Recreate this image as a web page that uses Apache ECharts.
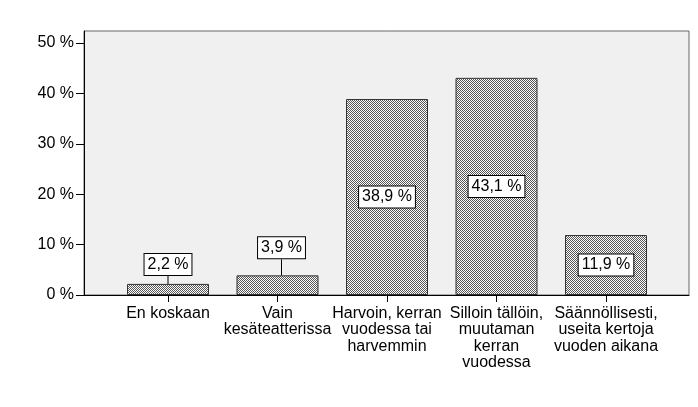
<!DOCTYPE html>
<html><head><meta charset="utf-8">
<script src="https://cdn.jsdelivr.net/npm/echarts@6/dist/echarts.min.js"></script>
<style>html,body{margin:0;padding:0;background:#fff}#c{width:698px;height:407px}</style>
</head><body><div id="c"></div>
<script>
const categories = ['En koskaan', 'Vain\nkesäteatterissa', 'Harvoin, kerran\nvuodessa tai\nharvemmin', 'Silloin tällöin,\nmuutaman\nkerran\nvuodessa', 'Säännöllisesti,\nuseita kertoja\nvuoden aikana'];
const values = [2.2, 3.9, 38.9, 43.1, 11.9];
const yTicks = [0, 10, 20, 30, 40, 50];

const pc = document.createElement('canvas');
pc.width = 2; pc.height = 2;
const g = pc.getContext('2d');
g.fillStyle = '#ffffff'; g.fillRect(0, 0, 2, 2);
g.fillStyle = '#555555'; g.fillRect(0, 0, 1, 1); g.fillRect(1, 1, 1, 1);

const font = "'Liberation Sans', Arial, sans-serif";
const Y_MAX = 52.4;
const chart = echarts.init(document.getElementById('c'));
chart.setOption({
  animation: false,
  textStyle: { fontFamily: font },
  grid: [
    { left: 84, right: 9, top: 31, bottom: 112, show: true, backgroundColor: '#f0f0f0', borderColor: '#666', borderWidth: 1 },
    { left: 113.25, right: 37.25, top: 31, bottom: 112 }
  ],
  xAxis: [
    { gridIndex: 0, type: 'category', data: [''], axisLine: { lineStyle: { color: '#000' } }, axisTick: { show: false }, axisLabel: { show: false } },
    { gridIndex: 1, type: 'category', data: categories, axisLine: { show: false },
      axisTick: { show: true, alignWithLabel: true, length: 7, lineStyle: { color: '#000' } },
      axisLabel: { color: '#000', fontSize: 16, lineHeight: 16.5, margin: 10, interval: 0, fontFamily: font } }
  ],
  yAxis: [
    { gridIndex: 0, type: 'value', min: 0, max: Y_MAX, splitLine: { show: false },
      axisLine: { show: true, lineStyle: { color: '#000' } },
      axisTick: { show: true, length: 8, lineStyle: { color: '#000' }, customValues: yTicks },
      axisLabel: { color: '#000', fontSize: 16, margin: 10, customValues: yTicks, formatter: v => v + ' %', fontFamily: font } },
    { gridIndex: 1, type: 'value', min: 0, max: Y_MAX, show: false }
  ],
  series: [{
    type: 'bar', xAxisIndex: 1, yAxisIndex: 1, barWidth: 82,
    data: values,
    itemStyle: { color: { image: pc, repeat: 'repeat' }, borderColor: '#333', borderWidth: 1 },
    label: {
      show: true, position: 'inside', color: '#000', fontSize: 16, fontFamily: font,
      backgroundColor: '#fff', borderColor: '#000', borderWidth: 1, padding: [3, 3, 2, 3],
      formatter: p => String(p.value).replace('.', ',') + ' %'
    },
    labelLayout: function (p) {
      const gaps = [8, 16];
      const dxs = [0, 4];
      if (p.dataIndex > 1) return {};
      const cur = p.labelRect.y + p.labelRect.height / 2;
      const target = p.rect.y - gaps[p.dataIndex] - p.labelRect.height / 2;
      return { dy: target - cur, dx: dxs[p.dataIndex] };
    },
    labelLine: { show: true, lineStyle: { color: '#000', width: 1 } }
  }]
});
</script></body></html>
